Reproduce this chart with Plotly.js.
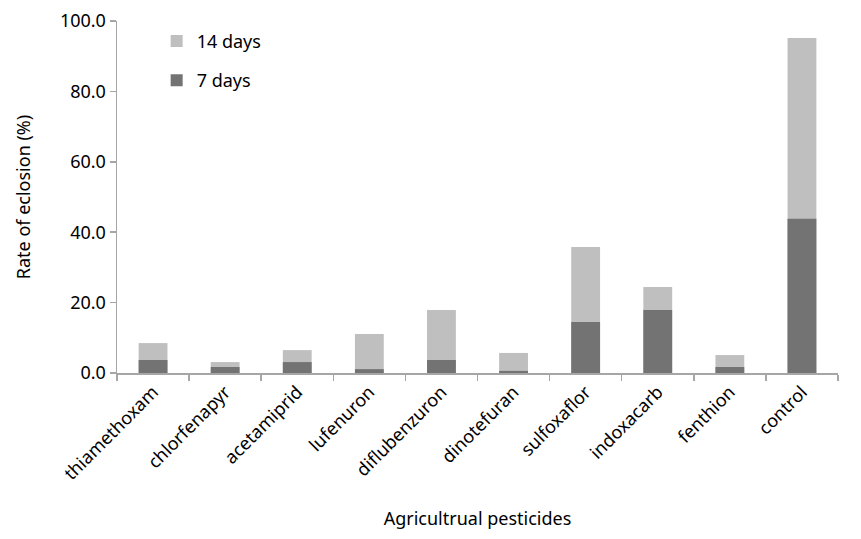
<!DOCTYPE html>
<html>
<head>
<meta charset="utf-8">
<script src="https://cdn.plot.ly/plotly-3.0.1.min.js"></script>
<style>html,body{margin:0;padding:0;background:#fff;}#chart{width:861px;height:539px;}</style>
</head>
<body>
<div id="chart"></div>
<script>
const categories = ["thiamethoxam","chlorfenapyr","acetamiprid","lufenuron","diflubenzuron","dinotefuran","sulfoxaflor","indoxacarb","fenthion","control"];
const days7 = [3.7, 1.7, 3.1, 1.1, 3.7, 0.6, 14.5, 17.9, 1.7, 43.8];
const days14 = [8.5, 3.1, 6.5, 11.1, 17.9, 5.7, 35.8, 24.4, 5.1, 95.2];
const yTicks = [0, 20, 40, 60, 80, 100];

const font = "'Noto Sans', 'DejaVu Sans', sans-serif";
const traces = [
  {type:'bar', name:'14 days', x:categories, y:days14, marker:{color:'#BFBFBF'}, width:0.4, legendgroup:'a', hoverinfo:'y'},
  {type:'bar', name:'7 days', x:categories, y:days7, marker:{color:'#737373'}, width:0.4, legendgroup:'b', hoverinfo:'y'}
];
const layout = {
  width:861, height:539,
  margin:{l:117, r:23, t:21, b:166},
  barmode:'overlay',
  paper_bgcolor:'#fff', plot_bgcolor:'#fff',
  font:{family:font, size:18, color:'#000'},
  showlegend:true,
  legend:{x:0.055, y:0.995, xanchor:'left', yanchor:'top', traceorder:'grouped', tracegroupgap:13, font:{size:18}, bgcolor:'rgba(0,0,0,0)', itemwidth:30},
  xaxis:{type:'category', tickangle:-45, showline:true, linecolor:'#A6A6A6', linewidth:1.5,
         ticks:'outside', tickson:'boundaries', ticklen:6, tickcolor:'#A6A6A6', tickwidth:1.5,
         tickfont:{size:18}, automargin:false,
         title:{text:'Agricultrual pesticides', font:{size:18}, standoff:29}},
  yaxis:{range:[0,100], tickvals:yTicks, ticktext:yTicks.map(v=>v.toFixed(1)), showgrid:false, zeroline:false,
         showline:true, linecolor:'#A6A6A6', linewidth:1.5, ticks:'outside', ticklen:6, tickcolor:'#A6A6A6', tickwidth:1.5,
         tickfont:{size:18}, automargin:false,
         title:{text:'Rate of eclosion (%)', font:{size:18}, standoff:24}}
};
Plotly.newPlot('chart', traces, layout, {displayModeBar:false, staticPlot:true});
</script>
</body>
</html>
